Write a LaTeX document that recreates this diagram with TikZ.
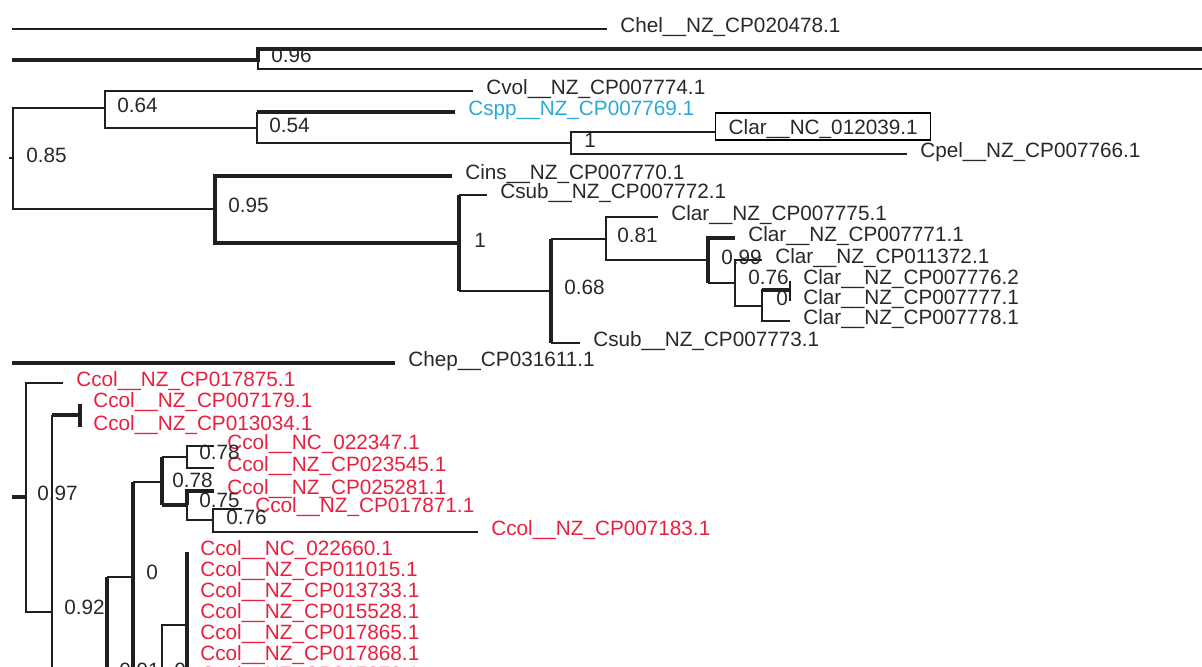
\documentclass[tikz,border=0pt]{standalone}
\usepackage{fontspec}
\setmainfont{Liberation Sans}
\definecolor{txtgray}{RGB}{40,40,40}
\definecolor{ccolred}{RGB}{232,32,62}
\definecolor{cspblue}{RGB}{42,168,220}
\begin{document}
\begin{tikzpicture}[x=0.02cm, y=-0.02cm,
  font=\fontsize{11.8pt}{13pt}\selectfont,
  branch/.style={line width=0.8pt, draw=black!88},
  thk/.style={line width=1.8pt, draw=black!88},
  leaf/.style={anchor=west, inner xsep=0.26cm, inner ysep=0pt,
    text height=6.2pt, text depth=2.2pt, text=txtgray},
  redleaf/.style={leaf, text=ccolred},
  boxleaf/.style={draw, line width=0.8pt, anchor=base west, inner xsep=0.26cm,
    inner ysep=0pt, text height=12.2pt, text depth=3.1pt, text=txtgray},
  supp/.style={anchor=base west, inner sep=0pt, text=txtgray}]
  \useasboundingbox (0,0) rectangle (1202,666);
  \clip (0,0) rectangle (1202,666);

  % Free ends at the left and right edges
  \coordinate (o1) at (12,29);
  \coordinate (o2) at (12,60);
  \coordinate (o3) at (9,158);
  \coordinate (o4) at (12,363);
  \coordinate (o5) at (12,497);
  \coordinate (e1) at (1210,49);
  \coordinate (e2) at (1210,69);

  % Chel and the 0.96 pair
  \node[leaf] (chel) at (607,29) {Chel\_\_NZ\_CP020478.1};
  \draw[branch] (o1) -- (chel.west);
  \coordinate (n96) at (258,60);
  \draw[thk] (o2) -- (n96) |- (e1);
  \draw[branch] (n96) |- (e2);
  \node[supp] (s96) at (271,62.5) {0.96};

  % 0.85 clade
  \coordinate (n85) at (13,158);
  \coordinate (n64) at (105,108);
  \coordinate (n54) at (257,128);
  \coordinate (n1a) at (571,143);
  \coordinate (n95) at (215,209);
  \coordinate (n1b) at (459,243);
  \coordinate (n68) at (551,291);
  \coordinate (n81) at (606,239);
  \coordinate (n99) at (708,260);
  \coordinate (n76a) at (735,283);
  \coordinate (n0a) at (762,306);
  \coordinate (nx) at (790,290);

  \node[leaf] (cvol) at (473,91) {Cvol\_\_NZ\_CP007774.1};
  \node[leaf, text=cspblue] (cspp) at (455,112) {Cspp\_\_NZ\_CP007769.1};
  \coordinate (tclar) at (715,132);
  \node[boxleaf] (clarnc) at (715,134.5) {Clar\_\_NC\_012039.1};
  \node[leaf] (cpel) at (907,154) {Cpel\_\_NZ\_CP007766.1};
  \node[leaf] (cins) at (452,176) {Cins\_\_NZ\_CP007770.1};
  \node[leaf] (csuba) at (487,195) {Csub\_\_NZ\_CP007772.1};
  \node[leaf] (clara) at (658,217) {Clar\_\_NZ\_CP007775.1};
  \node[leaf] (clarb) at (735,238) {Clar\_\_NZ\_CP007771.1};
  \node[leaf] (clarc) at (762,260) {Clar\_\_NZ\_CP011372.1};
  \node[leaf] (clard) at (790,281) {Clar\_\_NZ\_CP007776.2};
  \node[leaf] (clare) at (790,301) {Clar\_\_NZ\_CP007777.1};
  \node[leaf] (clarf) at (790,321) {Clar\_\_NZ\_CP007778.1};
  \node[leaf] (csubb) at (580,343) {Csub\_\_NZ\_CP007773.1};

  \draw[branch] (o3) -- (n85);
  \draw[branch] (n85) |- (n64);
  \draw[branch] (n85) |- (n95);
  \draw[branch] (n64) |- (cvol.west);
  \draw[branch] (n64) |- (n54);
  \draw[branch] (n54) -- (n54 |- cspp.west);
  \draw[thk] (n54 |- cspp.west) -- (cspp.west);
  \draw[branch] (n54) |- (n1a);
  \draw[branch] (n1a) |- (tclar);
  \draw[branch] (n1a) |- (cpel.west);
  \draw[thk] (n95) |- (cins.west);
  \draw[thk] (n95) |- (n1b);
  \draw[thk] (n1b |- csuba.west) -- (n1b |- n68);
  \draw[branch] (n1b |- csuba.west) -- (csuba.west);
  \draw[branch] (n1b |- n68) -- (n68);
  \draw[thk] (n68 |- n81) -- (n68 |- csubb.west);
  \draw[branch] (n68 |- n81) -- (n81);
  \draw[branch] (n68 |- csubb.west) -- (csubb.west);
  \draw[branch] (n81) |- (clara.west);
  \draw[branch] (n81) |- (n99);
  \draw[thk] (n99) |- (clarb.west);
  \draw[thk] (n99) -- (n99 |- n76a);
  \draw[branch] (n99 |- n76a) -- (n76a);
  \draw[branch] (n76a) |- (clarc.west);
  \draw[branch] (n76a) |- (n0a);
  \draw[thk] (n0a |- nx) -- (nx);
  \draw[branch] (n0a) |- (nx);
  \draw[branch] (n0a) |- (clarf.west);
  \draw[branch] (nx) |- (clard.west);
  \draw[branch] (nx) |- (clare.west);

  \node[supp] (s85) at (26,162.5) {0.85};
  \node[supp] (s64) at (117,112.5) {0.64};
  \node[supp] (s54) at (269,132.5) {0.54};
  \node[supp] (s1a) at (584,147.5) {1};
  \node[supp] (s95) at (228,212.5) {0.95};
  \node[supp] (s1b) at (474,247.5) {1};
  \node[supp] (s81) at (617,242.5) {0.81};
  \node[supp] (s68) at (564,294.5) {0.68};
  \node[supp] (s99) at (721,264.5) {0.99};
  \node[supp] (s76a) at (748,284.5) {0.76};
  \node[supp] (s0a) at (776,305.5) {0};

  % Chep
  \node[leaf] (chep) at (395,363) {Chep\_\_CP031611.1};
  \draw[thk] (o4) -- (chep.west);

  % Ccol clade
  \coordinate (n97) at (26,497);
  \coordinate (n92) at (52,612);
  \coordinate (n80) at (80,415);
  \coordinate (n91) at (107,668);
  \coordinate (n0b) at (133,577);
  \coordinate (n78b) at (162,482);
  \coordinate (n78a) at (187,457);
  \coordinate (n75) at (187,505);
  \coordinate (n76b) at (213,520);
  \coordinate (n0c) at (162,668);
  \coordinate (n187) at (187,625);
  \coordinate (f1) at (187,720);
  \coordinate (f2) at (162,760);
  \coordinate (f3) at (107,760);

  \node[redleaf] (ccola) at (63,383) {Ccol\_\_NZ\_CP017875.1};
  \node[redleaf] (ccolb) at (80,404) {Ccol\_\_NZ\_CP007179.1};
  \node[redleaf] (ccolc) at (80,427) {Ccol\_\_NZ\_CP013034.1};
  \node[redleaf] (ccold) at (214,446) {Ccol\_\_NC\_022347.1};
  \node[redleaf] (ccole) at (214,468) {Ccol\_\_NZ\_CP023545.1};
  \node[redleaf] (ccolf) at (214,491) {Ccol\_\_NZ\_CP025281.1};
  \node[redleaf] (ccolg) at (242,509) {Ccol\_\_NZ\_CP017871.1};
  \node[redleaf] (ccolh) at (478,532) {Ccol\_\_NZ\_CP007183.1};
  \node[redleaf] (ccoli) at (187,552) {Ccol\_\_NC\_022660.1};
  \node[redleaf] (ccolj) at (187,573) {Ccol\_\_NZ\_CP011015.1};
  \node[redleaf] (ccolk) at (187,594) {Ccol\_\_NZ\_CP013733.1};
  \node[redleaf] (ccoll) at (187,615) {Ccol\_\_NZ\_CP015528.1};
  \node[redleaf] (ccolm) at (187,636) {Ccol\_\_NZ\_CP017865.1};
  \node[redleaf] (ccoln) at (187,657) {Ccol\_\_NZ\_CP017868.1};
  \node[redleaf] (ccolo) at (187,678) {Ccol\_\_NZ\_CP017870.1};

  \draw[thk] (o5) -- (n97);
  \draw[branch] (n97) |- (ccola.west);
  \draw[branch] (n97) |- (n92);
  \draw[branch] (n92) -- (n92 |- n80);
  \draw[thk] (n92 |- n80) -- (n80);
  \draw[branch] (n92) |- (n91);
  \draw[thk] (n80) |- (ccolb.west);
  \draw[thk] (n80) |- (ccolc.west);
  \draw[thk] (n91 |- n0b) -- (f3);
  \draw[branch] (n91 |- n0b) -- (n0b);
  \draw[thk] (n0b |- n78b) -- (n0b |- n0c);
  \draw[branch] (n0b |- n78b) -- (n78b);
  \draw[branch] (n0b |- n0c) -- (n0c);
  \draw[thk] (n78b |- n78a) -- (n78b |- n75);
  \draw[branch] (n78b |- n78a) -- (n78a);
  \draw[thk] (n78b |- n75) -- (n75);
  \draw[branch] (n78a) |- (ccold.west);
  \draw[branch] (n78a) |- (ccole.west);
  \draw[thk] (n75) |- (ccolf.west);
  \draw[branch] (n75) |- (n76b);
  \draw[branch] (n76b) |- (ccolg.west);
  \draw[branch] (n76b) |- (ccolh.west);
  \draw[branch] (n0c) |- (n187);
  \draw[branch] (n0c) -- (f2);
  \draw[thk] (n187) -- (ccoli.west);
  \draw[thk] (n187) -- (f1);

  \node[supp] (s97) at (37,500.5) {0.97};
  \node[supp] (s92) at (64,614.5) {0.92};
  \node[supp] (s0b) at (146,579.5) {0};
  \node[supp] (s78b) at (172,487.5) {0.78};
  \node[supp] (s78a) at (199,459.5) {0.78};
  \node[supp] (s75) at (199,507.5) {0.75};
  \node[supp] (s76b) at (226,524.5) {0.76};
  \node[supp] (s91) at (119,677) {0.91};
  \node[supp] (s0c) at (174,677) {0};
\end{tikzpicture}
\end{document}
